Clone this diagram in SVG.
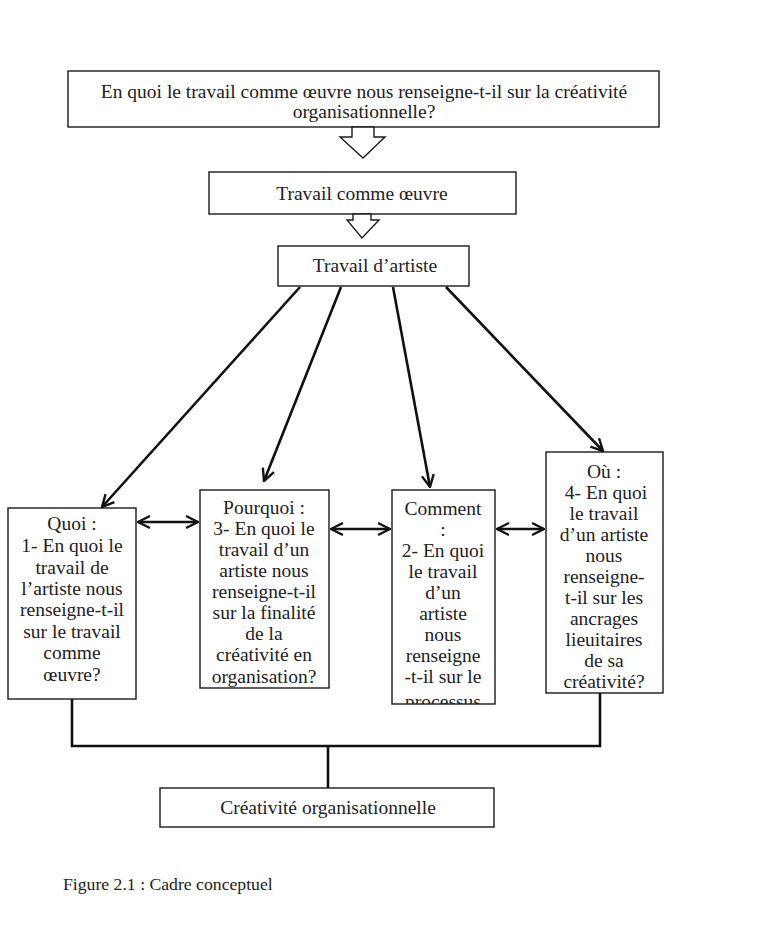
<svg xmlns="http://www.w3.org/2000/svg" width="769" height="946" viewBox="0 0 769 946">
<style>
.box{fill:#fff;stroke:#1a1a1a;stroke-width:1.4}
.t{font-family:"Liberation Serif","DejaVu Serif",serif;font-size:19.5px;fill:#222;text-anchor:middle}
.cap{font-family:"Liberation Serif","DejaVu Serif",serif;font-size:17.7px;fill:#222}
.c{fill:none;stroke:#111;stroke-width:2.6}
.blk{fill:#fff;stroke:#1a1a1a;stroke-width:1.4}
</style>
<defs>
<marker id="ah" viewBox="0 0 12 12" refX="11" refY="6" markerWidth="5.5" markerHeight="5.5" orient="auto-start-reverse" markerUnits="strokeWidth">
<path d="M1,1 L11,6 L1,11" fill="none" stroke="#111" stroke-width="2"/>
</marker>
<clipPath id="clipP"><rect x="200" y="490" width="129" height="198"/></clipPath>
<clipPath id="clipC"><rect x="392" y="490" width="103" height="214"/></clipPath>
</defs>
<rect width="769" height="946" fill="#fff"/>

<g id="n-question">
<rect class="box" x="68" y="71" width="591" height="56"/>
<text class="t" x="364" y="98">En quoi le travail comme œuvre nous renseigne-t-il sur la créativité</text>
<text class="t" x="364" y="118">organisationnelle?</text>
</g>

<g id="n-oeuvre">
<rect class="box" x="209" y="172" width="307" height="42"/>
<text class="t" x="362" y="200">Travail comme œuvre</text>
</g>

<g id="n-artiste">
<rect class="box" x="278" y="246" width="191" height="40"/>
<text class="t" x="375" y="272">Travail d’artiste</text>
</g>

<g id="n-quoi">
<rect class="box" x="8" y="508" width="128" height="191"/>
<text class="t" x="72" y="530">Quoi :</text>
<text class="t" x="72" y="552">1- En quoi le</text>
<text class="t" x="72" y="574">travail de</text>
<text class="t" x="72" y="595">l’artiste nous</text>
<text class="t" x="72" y="616">renseigne-t-il</text>
<text class="t" x="72" y="638">sur le travail</text>
<text class="t" x="72" y="659">comme</text>
<text class="t" x="72" y="681">œuvre?</text>
</g>

<g id="n-pourquoi">
<rect class="box" x="200" y="490" width="129" height="198"/>
<g clip-path="url(#clipP)">
<text class="t" x="264" y="514">Pourquoi :</text>
<text class="t" x="264" y="535">3- En quoi le</text>
<text class="t" x="264" y="556">travail d’un</text>
<text class="t" x="264" y="577">artiste nous</text>
<text class="t" x="264" y="598">renseigne-t-il</text>
<text class="t" x="264" y="619">sur la finalité</text>
<text class="t" x="264" y="640">de la</text>
<text class="t" x="264" y="661">créativité en</text>
<text class="t" x="264" y="683">organisation?</text>
</g>
</g>

<g id="n-comment">
<rect class="box" x="392" y="490" width="103" height="214"/>
<g clip-path="url(#clipC)">
<text class="t" x="443" y="515">Comment</text>
<text class="t" x="443" y="536">:</text>
<text class="t" x="443" y="557">2- En quoi</text>
<text class="t" x="443" y="578">le travail</text>
<text class="t" x="443" y="599">d’un</text>
<text class="t" x="443" y="620">artiste</text>
<text class="t" x="443" y="641">nous</text>
<text class="t" x="443" y="662">renseigne</text>
<text class="t" x="443" y="683">-t-il sur le</text>
<text class="t" x="443" y="708">processus</text>
</g>
</g>

<g id="n-ou">
<rect class="box" x="546" y="452" width="117" height="241"/>
<text class="t" x="604" y="478">Où :</text>
<text class="t" x="606" y="499">4- En quoi</text>
<text class="t" x="604" y="520">le travail</text>
<text class="t" x="604" y="541">d’un artiste</text>
<text class="t" x="604" y="562">nous</text>
<text class="t" x="604" y="583">renseigne-</text>
<text class="t" x="604" y="604">t-il sur les</text>
<text class="t" x="604" y="625">ancrages</text>
<text class="t" x="604" y="646">lieuitaires</text>
<text class="t" x="604" y="667">de sa</text>
<text class="t" x="604" y="688">créativité?</text>
</g>

<g id="n-creativite">
<rect class="box" x="160" y="788" width="334" height="39"/>
<text class="t" x="328" y="814">Créativité organisationnelle</text>
</g>

<g id="connectors">
<polygon class="blk" points="352,127 352,137 340,137 363,158 385,137 374,137 374,127"/>
<polygon class="blk" points="353,214 353,220 347,220 362,238 379,220 371,220 371,214"/>
<line class="c" x1="300" y1="287" x2="102" y2="507" marker-end="url(#ah)"/>
<line class="c" x1="341" y1="287" x2="264" y2="481" marker-end="url(#ah)"/>
<line class="c" x1="393" y1="287" x2="430" y2="487" marker-end="url(#ah)"/>
<line class="c" x1="446" y1="287" x2="603" y2="451" marker-end="url(#ah)"/>
<line class="c" x1="138" y1="522" x2="198" y2="522" marker-start="url(#ah)" marker-end="url(#ah)"/>
<line class="c" x1="331" y1="529" x2="390" y2="529" marker-start="url(#ah)" marker-end="url(#ah)"/>
<line class="c" x1="497" y1="529" x2="544" y2="529" marker-start="url(#ah)" marker-end="url(#ah)"/>
<polyline class="c" points="72,699 72,746 600,746 600,693"/>
<line class="c" x1="328" y1="746" x2="328" y2="788"/>
</g>

<text class="cap" x="63" y="890">Figure 2.1 : Cadre conceptuel</text>
</svg>
